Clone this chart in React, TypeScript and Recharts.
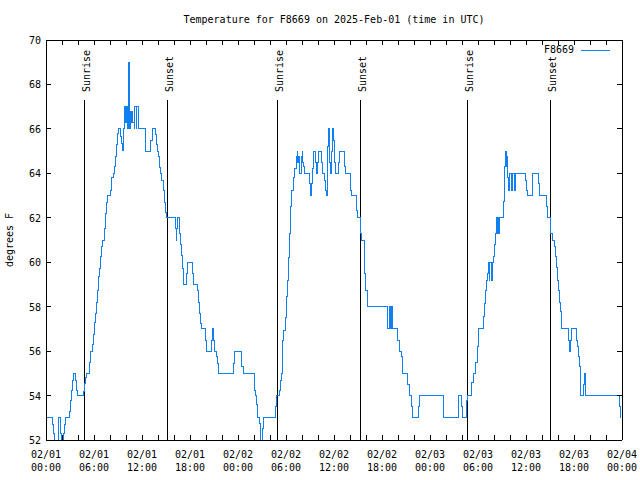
import React from 'react';
import { LineChart, Line, XAxis, YAxis, ReferenceLine } from 'recharts';

// hours since 02/01 00:00 UTC, and temperature (F) from that time on
const TIME_H = [
  0, 0.79, 0.92, 1.08, 1.5, 1.62, 1.75, 1.83, 1.92, 2.17, 2.33, 2.42, 2.92, 3.0, 3.17, 3.29, 3.42, 3.71, 3.83, 3.92,
  4.67, 4.79, 4.96, 5.08, 5.38, 5.5, 5.79, 5.92, 6.08, 6.21, 6.33, 6.42, 6.54, 6.71, 6.83, 6.96, 7.08, 7.33, 7.46, 7.58,
  7.67, 8.08, 8.21, 8.38, 8.5, 8.63, 8.79, 8.92, 9.0, 9.33, 9.46, 9.54, 9.63, 9.75, 9.88, 9.96, 10.04, 10.17, 10.25, 10.38,
  10.46, 10.58, 10.67, 10.75, 10.83, 11.0, 11.08, 11.25, 11.33, 11.5, 12.38, 13.08, 13.29, 13.63, 13.75, 13.92, 14.04, 14.17, 14.25, 14.46,
  14.67, 14.79, 14.96, 15.08, 16.13, 16.25, 16.33, 16.46, 16.67, 16.83, 16.96, 17.08, 17.17, 17.5, 17.71, 18.29, 18.42, 18.96, 19.08, 19.21,
  19.33, 19.46, 19.92, 20.08, 20.63, 20.79, 20.92, 21.0, 21.25, 21.41, 21.58, 23.42, 23.58, 24.38, 24.66, 26.04, 26.16, 26.25, 26.38, 26.46,
  26.67, 26.79, 27.0, 27.16, 28.66, 28.84, 29.16, 29.29, 29.38, 29.5, 29.59, 29.71, 29.88, 30.0, 30.13, 30.29, 30.41, 30.54, 30.71, 30.91,
  31.04, 31.25, 31.38, 31.46, 31.59, 31.66, 31.88, 32.0, 32.09, 32.21, 32.29, 32.91, 33.04, 33.16, 33.34, 33.46, 33.63, 33.75, 33.88, 34.0,
  34.38, 34.5, 34.59, 34.79, 34.91, 35.04, 35.16, 35.29, 35.41, 35.54, 35.66, 35.84, 35.96, 36.09, 36.16, 36.5, 36.66, 37.29, 37.41, 38.04,
  38.16, 38.75, 38.91, 39.25, 39.41, 39.79, 39.96, 40.13, 42.71, 42.88, 43.0, 43.13, 43.25, 43.88, 44.21, 44.38, 44.59, 45.13, 45.41, 45.71,
  45.84, 46.5, 46.66, 49.71, 51.59, 51.91, 52.1, 52.5, 52.66, 53.16, 53.46, 53.63, 53.88, 54.0, 54.09, 54.71, 54.84, 54.96, 55.04, 55.16,
  55.25, 55.38, 55.46, 55.66, 55.75, 55.88, 56.0, 56.16, 56.29, 56.41, 56.5, 56.59, 56.71, 57.13, 57.25, 57.34, 57.41, 57.5, 57.59, 57.66,
  57.84, 57.96, 58.16, 58.29, 58.5, 58.63, 59.91, 60.04, 60.16, 60.79, 61.5, 61.66, 62.59, 62.66, 63.0, 63.09, 63.29, 63.5, 63.63, 63.75,
  63.91, 64.04, 64.16, 64.25, 64.38, 64.46, 65.25, 65.41, 65.5, 65.66, 66.34, 66.41, 66.54, 66.63, 66.75, 66.84, 67.16, 67.34, 67.46, 71.63,
  71.75, 71.9,
];

const TEMP_F = [
  53, 52.7, 52.3, 52, 52.4, 53, 52.6, 52.3, 52, 52.3, 52.7, 53, 53.3, 53.8, 54.25, 54.7, 55, 54.7, 54.25, 54,
  54.2, 54.55, 54.8, 55, 55.5, 56, 56.3, 56.75, 57.3, 57.7, 58.2, 58.75, 59.35, 59.7, 60.25, 60.7, 61, 61.5, 62.2, 62.7,
  63, 63.25, 63.8, 64, 64.3, 64.75, 65.3, 65.8, 66, 65.65, 65.35, 65.05, 66, 67, 66.5, 66.3, 67, 66, 69, 68.3,
  66, 66.8, 66.3, 66.8, 66.3, 66, 67, 66, 67, 66, 65, 65.5, 66, 65.75, 65.3, 65, 64.75, 64.25, 64, 63.7,
  63.25, 62.7, 62.25, 62, 61.5, 61, 61.5, 62, 61.3, 60.8, 60.3, 59.7, 59, 59.5, 60, 59.5, 59, 58.75, 58.2, 57.7,
  57.25, 57, 56.5, 56, 56.5, 57, 56.5, 56, 55.75, 55.45, 55, 55.45, 56, 55.3, 55, 54.25, 54, 53.6, 53.2, 53,
  52.75, 52, 52.5, 53, 53.5, 54, 54.25, 54.7, 55, 55.6, 56.5, 56.95, 57.5, 58.45, 59.2, 60.2, 61.3, 62.5, 63.25, 63.8,
  64.2, 64.75, 65, 64.5, 64.75, 64, 64.75, 65, 64.5, 64.3, 64, 63.55, 63, 63.55, 64.2, 65, 64.5, 64, 64.5, 65,
  64.5, 64.25, 64, 63.7, 63.25, 63, 65.2, 66, 64.5, 64, 65, 66, 65.5, 64.5, 64, 64.5, 65, 64.3, 64, 63.25,
  63, 62.35, 62, 61.3, 61, 59.5, 58.75, 58, 57, 58, 57, 58, 57, 56.5, 56, 55.75, 55, 54.5, 54, 53.5,
  53, 53.5, 54, 53, 54, 53.5, 53, 53.8, 54, 54.6, 55, 55.5, 56.2, 56.5, 57, 57.55, 58.15, 58.75, 59.2, 59.5,
  60, 59.2, 60, 59.2, 60, 60.25, 60.8, 61.3, 62, 61.3, 62, 61.3, 62, 62.75, 63.55, 64.3, 65, 64.3, 64.75, 63.8,
  63.25, 64, 63.25, 64, 63.25, 64, 63.7, 63.25, 63, 64, 63.55, 63, 62.5, 62, 61.75, 61.3, 61, 60.7, 60.25, 59.75,
  59.2, 58.75, 58.2, 57.8, 57.25, 57, 56.5, 56, 56.5, 57, 56.5, 56.2, 55.75, 55.3, 54.7, 54, 54.5, 55, 54, 53.5,
  53, 53,
];

const SUN_HOURS = [4.75, 15.125, 28.875, 39.25, 52.625, 63.0];
const SUN_LABELS = ['Sunrise', 'Sunset', 'Sunrise', 'Sunset', 'Sunrise', 'Sunset'];
const SUN_LINE_TOP = 67.3;

const X_TICKS = [0, 2, 4, 6, 8, 10, 12, 14, 16, 18, 20, 22, 24, 26, 28, 30, 32, 34, 36, 38, 40, 42, 44, 46, 48, 50, 52, 54, 56, 58, 60, 62, 64, 66, 68, 70, 72];
const Y_TICKS = [52, 54, 56, 58, 60, 62, 64, 66, 68, 70];

const MONO = 'DejaVu Sans Mono, monospace';
const BLUE = '#1080f0';

const data = TIME_H.map((h, i) => ({ h, t: TEMP_F[i] }));

const pad = (n: number) => (n < 10 ? '0' + n : '' + n);

function BottomTick({ x, y, payload }: any) {
  const v = payload.value;
  const day = Math.floor(v / 24) + 1;
  const hr = v % 24;
  return (
    <g>
      <line x1={x} y1={y} x2={x} y2={y - 5} stroke="#000" shapeRendering="crispEdges" />
      {v % 6 === 0 && (
        <text x={x} y={y} textAnchor="middle" fontFamily={MONO} fontSize={10} fill="#000">
          <tspan x={x} dy={18}>{`02/${pad(day)}`}</tspan>
          <tspan x={x} dy={13}>{`${pad(hr)}:00`}</tspan>
        </text>
      )}
    </g>
  );
}

function TopTick({ x, y }: any) {
  return <line x1={x} y1={y} x2={x} y2={y + 5} stroke="#000" shapeRendering="crispEdges" />;
}

function LeftTick({ x, y, payload }: any) {
  return (
    <g>
      <line x1={x} y1={y} x2={x + 5} y2={y} stroke="#000" shapeRendering="crispEdges" />
      <text x={x - 5} y={y + 4} textAnchor="end" fontFamily={MONO} fontSize={10} fill="#000">{payload.value}</text>
    </g>
  );
}

function RightTick({ x, y }: any) {
  return <line x1={x} y1={y} x2={x - 5} y2={y} stroke="#000" shapeRendering="crispEdges" />;
}

const sunLabel = (text: string) => (props: any) => {
  const vb = props.viewBox || {};
  const x = vb.x + 6;
  const y = vb.y - 8;
  return (
    <text x={x} y={y} transform={`rotate(-90 ${x} ${y})`} fontFamily={MONO} fontSize={10} fill="#000">{text}</text>
  );
};

export default function App() {
  return (
    <div style={{ position: 'absolute', left: 0, top: 0, width: 640, height: 480, background: '#fff', fontFamily: MONO }}>
      <LineChart width={640} height={480} data={data} margin={{ top: 20, right: 0, bottom: 10, left: 6 }}>
        <XAxis dataKey="h" type="number" domain={[0, 72]} ticks={X_TICKS} interval={0}
          tick={<BottomTick />} tickSize={0} tickMargin={0} tickLine={false} height={30}
          axisLine={{ stroke: '#000', shapeRendering: 'crispEdges' }} allowDataOverflow />
        <XAxis xAxisId="top" orientation="top" dataKey="h" type="number" domain={[0, 72]} ticks={X_TICKS} interval={0}
          tick={<TopTick />} tickSize={0} tickMargin={0} tickLine={false} height={20}
          axisLine={{ stroke: '#000', shapeRendering: 'crispEdges' }} allowDataOverflow />
        <YAxis type="number" domain={[52, 70]} ticks={Y_TICKS} interval={0} width={40}
          tick={<LeftTick />} tickSize={0} tickMargin={0} tickLine={false}
          axisLine={{ stroke: '#000', shapeRendering: 'crispEdges' }} allowDataOverflow />
        <YAxis yAxisId="right" orientation="right" type="number" domain={[52, 70]} ticks={Y_TICKS} interval={0} width={18}
          tick={<RightTick />} tickSize={0} tickMargin={0} tickLine={false}
          axisLine={{ stroke: '#000', shapeRendering: 'crispEdges' }} allowDataOverflow />
        {SUN_HOURS.map((h, i) => (
          <ReferenceLine key={i} segment={[{ x: h, y: 52 }, { x: h, y: SUN_LINE_TOP }]}
            stroke="#000" strokeWidth={1} shapeRendering="crispEdges" label={sunLabel(SUN_LABELS[i])} />
        ))}
        <Line type="stepAfter" dataKey="t" stroke={BLUE} strokeWidth={1} dot={false}
          shapeRendering="crispEdges" isAnimationActive={false} />
      </LineChart>

      {/* title */}
      <div style={{ position: 'absolute', left: 0, top: 13, width: 668, textAlign: 'center', fontSize: 10, lineHeight: '14px', color: '#000' }}>
        Temperature for F8669 on 2025-Feb-01 (time in UTC)
      </div>

      {/* y axis title */}
      <div style={{ position: 'absolute', left: 10, top: 240, transform: 'translate(-50%, -50%) rotate(-90deg)', fontSize: 10, lineHeight: '12px', whiteSpace: 'nowrap', color: '#000' }}>
        degrees F
      </div>

      {/* legend */}
      <div style={{ position: 'absolute', left: 531, top: 44, display: 'flex', alignItems: 'center', fontSize: 10, lineHeight: '12px', color: '#000' }}>
        <span style={{ width: 43, textAlign: 'right' }}>F8669</span>
        <svg width={32} height={12} style={{ marginLeft: 7 }}>
          <line x1={0} y1={6.5} x2={29} y2={6.5} stroke={BLUE} strokeWidth={1} />
        </svg>
      </div>
    </div>
  );
}
